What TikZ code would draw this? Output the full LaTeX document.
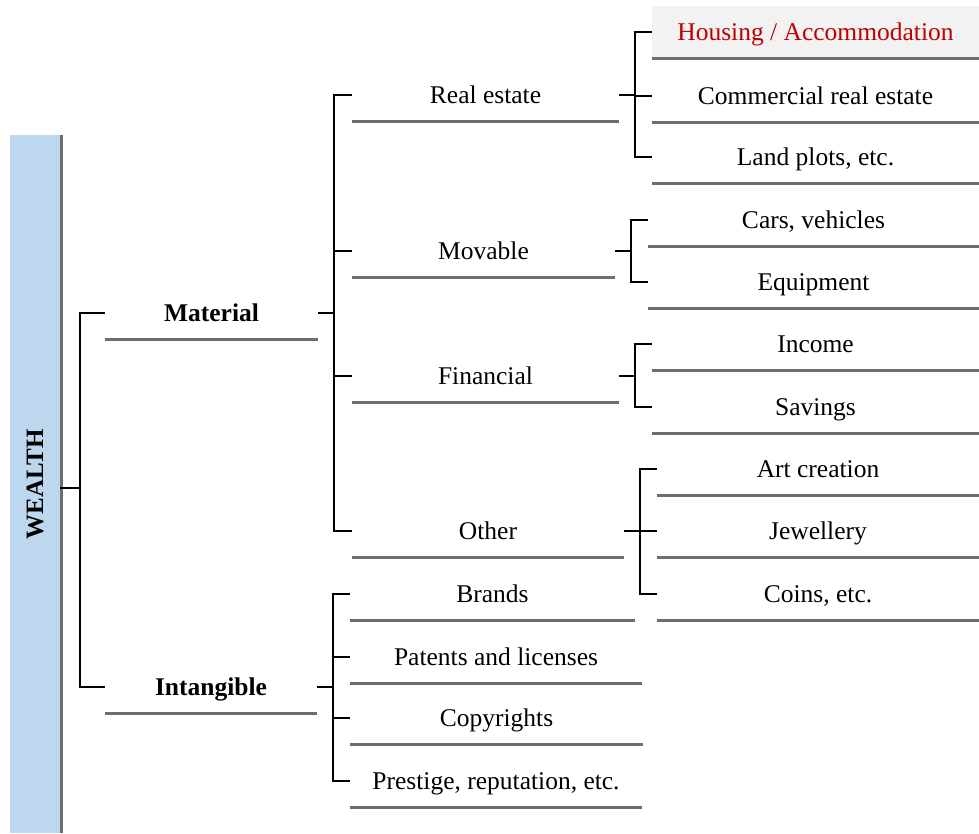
\documentclass[tikz,border=0pt]{standalone}
\usepackage{fontspec}
\setmainfont{Liberation Serif}

\definecolor{barblue}{RGB}{189,215,238}
\definecolor{lineg}{RGB}{110,110,110}
\definecolor{hlgray}{RGB}{242,242,242}
\definecolor{hlred}{RGB}{192,0,0}

\tikzset{
  item/.style={inner sep=0pt, minimum height=52pt, text height=21pt, text depth=5pt,
    font=\fontsize{25.5}{30}\selectfont},
  head/.style={item, font=\bfseries\fontsize{25.5}{30}\selectfont},
  brk/.style={black, line width=2pt},
  uline/.style={lineg, line width=2.6pt},
}

\begin{document}
\begin{tikzpicture}[x=1pt,y=-1pt]
\useasboundingbox (0,0) rectangle (979,833);

% left bar
\node[fill=barblue, inner sep=0pt, minimum width=50pt, minimum height=698pt] (wealth) at (35,484) {};
\draw[lineg, line width=3pt] ([xshift=1.5pt]wealth.north east) -- ([xshift=1.5pt]wealth.south east);
\node[rotate=90, font=\bfseries\fontsize{25}{30}\selectfont] (wlab) at (wealth.center) {WEALTH};

% level 1
\node[head, minimum width=213pt] (mat) at (211.5,313) {Material};
\node[head, minimum width=212pt] (intg) at (211,687) {Intangible};

% level 2
\node[item, minimum width=267pt] (re) at (485.5,95) {Real estate};
\node[item, minimum width=263pt] (mov) at (483.5,251) {Movable};
\node[item, minimum width=267pt] (fin) at (485.5,376) {Financial};
\node[item, minimum width=272pt] (oth) at (488,531) {Other};
\node[item, minimum width=285pt] (brand) at (492.5,594) {Brands};
\node[item, minimum width=292pt] (pat) at (496,657) {Patents and licenses};
\node[item, minimum width=293pt] (copy) at (496.5,718) {Copyrights};
\node[item, minimum width=292pt] (prest) at (496,781) {Prestige, reputation, etc.};

% level 3
\node[item, minimum width=327pt, fill=hlgray, text=hlred] (hous) at (815.5,32) {Housing / Accommodation};
\node[item, minimum width=327pt] (comm) at (815.5,96) {Commercial real estate};
\node[item, minimum width=327pt] (land) at (815.5,157) {Land plots, etc.};
\node[item, minimum width=331pt] (cars) at (813.5,220) {Cars, vehicles};
\node[item, minimum width=331pt] (equip) at (813.5,282) {Equipment};
\node[item, minimum width=327pt] (inc) at (815.5,344) {Income};
\node[item, minimum width=327pt] (sav) at (815.5,407) {Savings};
\node[item, minimum width=322pt] (art) at (818,469) {Art creation};
\node[item, minimum width=322pt] (jew) at (818,531) {Jewellery};
\node[item, minimum width=322pt] (coin) at (818,594) {Coins, etc.};

% underlines
\foreach \n in {mat,intg,re,mov,fin,oth,brand,pat,copy,prest,
                hous,comm,land,cars,equip,inc,sav,art,jew,coin}
  \draw[uline] (\n.south west) -- (\n.south east);

% brackets
\draw[brk] ([yshift=-4pt]wealth.east) -- ++(20,0) coordinate (j0);
\foreach \c in {mat,intg} \draw[brk] (j0) |- (\c.west);

\draw[brk] (mat.east) -- ++(16,0) coordinate (j1);
\foreach \c in {re,mov,fin,oth} \draw[brk] (j1) |- (\c.west);

\draw[brk] (intg.east) -- ++(16,0) coordinate (j2);
\foreach \c in {brand,pat,copy,prest} \draw[brk] (j2) |- (\c.west);

\draw[brk] (re.east) -- ++(16,0) coordinate (j3);
\foreach \c in {hous,comm,land} \draw[brk] (j3) |- (\c.west);

\draw[brk] (mov.east) -- ++(16,0) coordinate (j4);
\foreach \c in {cars,equip} \draw[brk] (j4) |- (\c.west);

\draw[brk] (fin.east) -- ++(16,0) coordinate (j5);
\foreach \c in {inc,sav} \draw[brk] (j5) |- (\c.west);

\draw[brk] (oth.east) -- ++(16,0) coordinate (j6);
\foreach \c in {art,jew,coin} \draw[brk] (j6) |- (\c.west);
\end{tikzpicture}
\end{document}
